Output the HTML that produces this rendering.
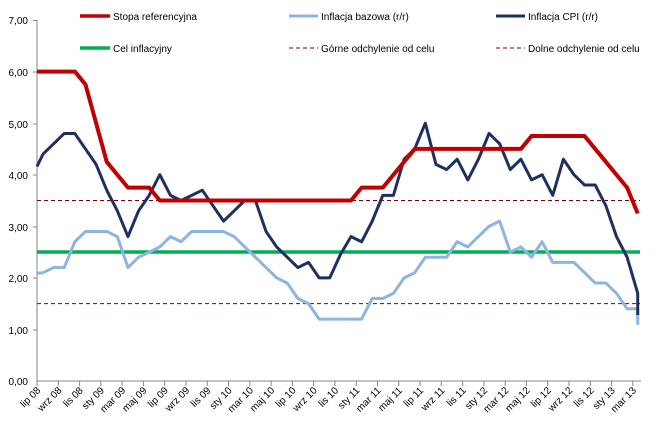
<!DOCTYPE html>
<html><head><meta charset="utf-8"><style>
html,body{margin:0;padding:0;background:#fff}
svg{display:block;font-family:"Liberation Sans",sans-serif;font-size:10px}
</style></head><body>
<svg width="656" height="428" viewBox="0 0 656 428" xmlns="http://www.w3.org/2000/svg">
<g fill="#000" text-anchor="end">
<text x="28" y="24">7,00</text><text x="28" y="76">6,00</text><text x="28" y="128">5,00</text>
<text x="28" y="179">4,00</text><text x="28" y="231">3,00</text><text x="28" y="282">2,00</text>
<text x="28" y="334">1,00</text><text x="28" y="385">0,00</text>
</g>
<g stroke="#868686" stroke-width="1">
<line x1="37" y1="20" x2="37" y2="381"/>
<line x1="37" y1="381" x2="641" y2="381"/>
<line x1="33" y1="20.5" x2="37" y2="20.5"/><line x1="33" y1="72" x2="37" y2="72"/><line x1="33" y1="124" x2="37" y2="124"/><line x1="33" y1="175" x2="37" y2="175"/><line x1="33" y1="227" x2="37" y2="227"/><line x1="33" y1="278" x2="37" y2="278"/><line x1="33" y1="330" x2="37" y2="330"/>
</g>
<g id="xt"></g>
<line x1="37" y1="200.5" x2="640" y2="200.5" stroke="#7f0000" stroke-width="1" stroke-dasharray="4,3"/>
<line x1="37" y1="303.6" x2="640" y2="303.6" stroke="#7f0000" stroke-width="1" stroke-dasharray="4,3"/>
<line x1="37" y1="252" x2="640" y2="252" stroke="#00b050" stroke-width="3.5"/>
<g transform="matrix(10.62 0 0 -51.57 43 381)" fill="none" stroke-linejoin="round">
<polyline vector-effect="non-scaling-stroke" stroke="#8db4e2" stroke-width="3" points="-0.565,2.09 0,2.1 1,2.2 2,2.2 3,2.7 4,2.9 5,2.9 6,2.9 7,2.8 8,2.2 9,2.4 10,2.5 11,2.6 12,2.8 13,2.7 14,2.9 15,2.9 16,2.9 17,2.9 18,2.8 19,2.6 20,2.4 21,2.2 22,2.0 23,1.9 24,1.6 25,1.5 26,1.2 27,1.2 28,1.2 29,1.2 30,1.2 31,1.6 32,1.6 33,1.7 34,2.0 35,2.1 36,2.4 37,2.4 38,2.4 39,2.7 40,2.6 41,2.8 42,3.0 43,3.1 44,2.5 45,2.6 46,2.4 47,2.7 48,2.3 49,2.3 50,2.3 51,2.1 52,1.9 53,1.9 54,1.7 55,1.4 56,1.4 56,1.09"/>
<polyline vector-effect="non-scaling-stroke" stroke="#1f3060" stroke-width="3" points="-0.565,4.16 0,4.4 1,4.6 2,4.8 3,4.8 4,4.5 5,4.2 6,3.7 7,3.3 8,2.8 9,3.3 10,3.6 11,4.0 12,3.6 13,3.5 14,3.6 15,3.7 16,3.4 17,3.1 18,3.3 19,3.5 20,3.5 21,2.9 22,2.6 23,2.4 24,2.2 25,2.3 26,2.0 27,2.0 28,2.45 29,2.8 30,2.7 31,3.1 32,3.6 33,3.6 34,4.3 35,4.5 36,5.0 37,4.2 38,4.1 39,4.3 40,3.9 41,4.3 42,4.8 43,4.6 44,4.1 45,4.3 46,3.9 47,4.0 48,3.6 49,4.3 50,4.0 51,3.8 52,3.8 53,3.4 54,2.8 55,2.4 56,1.7 56,1.28"/>
<polyline vector-effect="non-scaling-stroke" stroke="#c00000" stroke-width="4" points="-0.565,6 3,6 4,5.75 5,5 6,4.25 7,4 8,3.75 10,3.75 11,3.5 29,3.5 30,3.75 32,3.75 33,4 34,4.25 35,4.5 45,4.5 46,4.75 51,4.75 52,4.5 53,4.25 54,4 55,3.75 56,3.25"/>
</g>
<g stroke-width="3.5">
<line x1="80" y1="16" x2="110" y2="16" stroke="#c00000"/>
<line x1="289" y1="16" x2="318" y2="16" stroke="#8db4e2" stroke-width="3"/>
<line x1="496" y1="16" x2="525" y2="16" stroke="#1f3060" stroke-width="3"/>
<line x1="80" y1="48" x2="110" y2="48" stroke="#00b050"/>
<line x1="289" y1="48" x2="318" y2="48" stroke="#7f0000" stroke-width="1" stroke-dasharray="4,3"/>
<line x1="496" y1="48" x2="525" y2="48" stroke="#7f0000" stroke-width="1" stroke-dasharray="4,3"/>
</g>
<g fill="#000">
<text x="113" y="20">Stopa referencyjna</text>
<text x="321" y="20">Inflacja bazowa  (r/r)</text>
<text x="528" y="20">Inflacja CPI (r/r)</text>
<text x="113" y="52">Cel inflacyjny</text>
<text x="321" y="52">Górne odchylenie  od celu</text>
<text x="528" y="52">Dolne odchylenie  od  celu</text>
</g>
<g stroke="#868686">
<line x1="37" y1="381" x2="37" y2="386"/><line x1="58.3" y1="381" x2="58.3" y2="386"/><line x1="79.6" y1="381" x2="79.6" y2="386"/><line x1="100.8" y1="381" x2="100.8" y2="386"/><line x1="122.1" y1="381" x2="122.1" y2="386"/><line x1="143.4" y1="381" x2="143.4" y2="386"/><line x1="164.7" y1="381" x2="164.7" y2="386"/><line x1="186" y1="381" x2="186" y2="386"/><line x1="207.2" y1="381" x2="207.2" y2="386"/><line x1="228.5" y1="381" x2="228.5" y2="386"/><line x1="249.8" y1="381" x2="249.8" y2="386"/><line x1="271.1" y1="381" x2="271.1" y2="386"/><line x1="292.4" y1="381" x2="292.4" y2="386"/><line x1="313.6" y1="381" x2="313.6" y2="386"/><line x1="334.9" y1="381" x2="334.9" y2="386"/><line x1="356.2" y1="381" x2="356.2" y2="386"/><line x1="377.5" y1="381" x2="377.5" y2="386"/><line x1="398.8" y1="381" x2="398.8" y2="386"/><line x1="420" y1="381" x2="420" y2="386"/><line x1="441.3" y1="381" x2="441.3" y2="386"/><line x1="462.6" y1="381" x2="462.6" y2="386"/><line x1="483.9" y1="381" x2="483.9" y2="386"/><line x1="505.2" y1="381" x2="505.2" y2="386"/><line x1="526.4" y1="381" x2="526.4" y2="386"/><line x1="547.7" y1="381" x2="547.7" y2="386"/><line x1="569" y1="381" x2="569" y2="386"/><line x1="590.3" y1="381" x2="590.3" y2="386"/><line x1="611.6" y1="381" x2="611.6" y2="386"/><line x1="632.8" y1="381" x2="632.8" y2="386"/>
</g>
<g fill="#000" text-anchor="end">
<text transform="translate(41,391) rotate(-45)">lip 08</text>
<text transform="translate(62.3,391) rotate(-45)">wrz 08</text>
<text transform="translate(83.6,391) rotate(-45)">lis 08</text>
<text transform="translate(104.8,391) rotate(-45)">sty 09</text>
<text transform="translate(126.1,391) rotate(-45)">mar 09</text>
<text transform="translate(147.4,391) rotate(-45)">maj 09</text>
<text transform="translate(168.7,391) rotate(-45)">lip 09</text>
<text transform="translate(190,391) rotate(-45)">wrz 09</text>
<text transform="translate(211.2,391) rotate(-45)">lis 09</text>
<text transform="translate(232.5,391) rotate(-45)">sty 10</text>
<text transform="translate(253.8,391) rotate(-45)">mar 10</text>
<text transform="translate(275.1,391) rotate(-45)">maj 10</text>
<text transform="translate(296.4,391) rotate(-45)">lip 10</text>
<text transform="translate(317.6,391) rotate(-45)">wrz 10</text>
<text transform="translate(338.9,391) rotate(-45)">lis 10</text>
<text transform="translate(360.2,391) rotate(-45)">sty 11</text>
<text transform="translate(381.5,391) rotate(-45)">mar 11</text>
<text transform="translate(402.8,391) rotate(-45)">maj 11</text>
<text transform="translate(424,391) rotate(-45)">lip 11</text>
<text transform="translate(445.3,391) rotate(-45)">wrz 11</text>
<text transform="translate(466.6,391) rotate(-45)">lis 11</text>
<text transform="translate(487.9,391) rotate(-45)">sty 12</text>
<text transform="translate(509.2,391) rotate(-45)">mar 12</text>
<text transform="translate(530.4,391) rotate(-45)">maj 12</text>
<text transform="translate(551.7,391) rotate(-45)">lip 12</text>
<text transform="translate(573,391) rotate(-45)">wrz 12</text>
<text transform="translate(594.3,391) rotate(-45)">lis 12</text>
<text transform="translate(615.6,391) rotate(-45)">sty 13</text>
<text transform="translate(636.8,391) rotate(-45)">mar 13</text>
</g>
</svg>
</body></html>
